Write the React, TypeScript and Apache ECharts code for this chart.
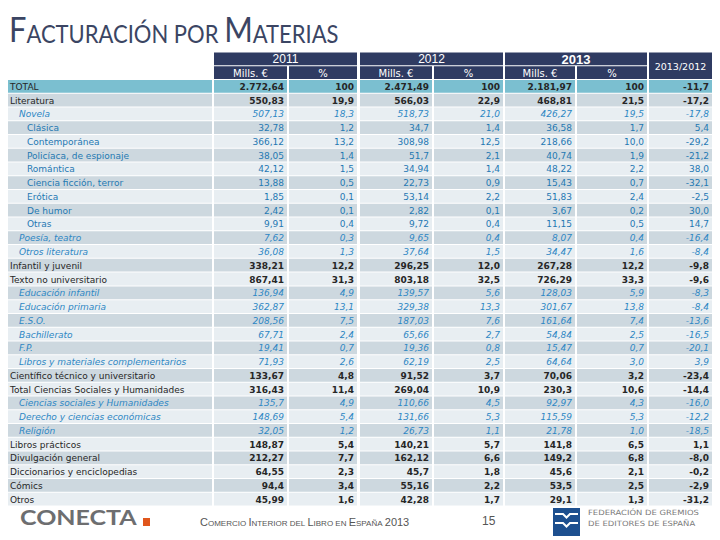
import React, { useEffect, useRef } from "react";
import * as echarts from "echarts";

// ---------- DATA ----------
const categories = [
  "TOTAL", "Literatura", "Novela", "Clásica", "Contemporánea", "Policíaca, de espionaje",
  "Romántica", "Ciencia ficción, terror", "Erótica", "De humor", "Otras", "Poesía, teatro",
  "Otros literatura", "Infantil y juvenil", "Texto no universitario", "Educación infantil",
  "Educación primaria", "E.S.O.", "Bachillerato", "F.P.", "Libros y materiales complementarios",
  "Científico técnico y universitario", "Total Ciencias Sociales y Humanidades",
  "Ciencias sociales y Humanidades", "Derecho y ciencias económicas", "Religión",
  "Libros prácticos", "Divulgación general", "Diccionarios y enciclopedias", "Cómics", "Otros",
];
// -1 total, 0 main category, 1 italic subcategory, 2 sub-subcategory
const levels = [-1, 0, 1, 2, 2, 2, 2, 2, 2, 2, 2, 1, 1, 0, 0, 1, 1, 1, 1, 1, 1, 0, 0, 1, 1, 1, 0, 0, 0, 0, 0];
const mills2011 = [2772.64, 550.83, 507.13, 32.78, 366.12, 38.05, 42.12, 13.88, 1.85, 2.42, 9.91, 7.62, 36.08, 338.21, 867.41, 136.94, 362.87, 208.56, 67.71, 19.41, 71.93, 133.67, 316.43, 135.7, 148.69, 32.05, 148.87, 212.27, 64.55, 94.4, 45.99];
const pct2011 = [100, 19.9, 18.3, 1.2, 13.2, 1.4, 1.5, 0.5, 0.1, 0.1, 0.4, 0.3, 1.3, 12.2, 31.3, 4.9, 13.1, 7.5, 2.4, 0.7, 2.6, 4.8, 11.4, 4.9, 5.4, 1.2, 5.4, 7.7, 2.3, 3.4, 1.6];
const mills2012 = [2471.49, 566.03, 518.73, 34.7, 308.98, 51.7, 34.94, 22.73, 53.14, 2.82, 9.72, 9.65, 37.64, 296.25, 803.18, 139.57, 329.38, 187.03, 65.66, 19.36, 62.19, 91.52, 269.04, 110.66, 131.66, 26.73, 140.21, 162.12, 45.7, 55.16, 42.28];
const pct2012 = [100, 22.9, 21.0, 1.4, 12.5, 2.1, 1.4, 0.9, 2.2, 0.1, 0.4, 0.4, 1.5, 12.0, 32.5, 5.6, 13.3, 7.6, 2.7, 0.8, 2.5, 3.7, 10.9, 4.5, 5.3, 1.1, 5.7, 6.6, 1.8, 2.2, 1.7];
const mills2013 = [2181.97, 468.81, 426.27, 36.58, 218.66, 40.74, 48.22, 15.43, 51.83, 3.67, 11.15, 8.07, 34.47, 267.28, 726.29, 128.03, 301.67, 161.64, 54.84, 15.47, 64.64, 70.06, 230.3, 92.97, 115.59, 21.78, 141.8, 149.2, 45.6, 53.5, 29.1];
const pct2013 = [100, 21.5, 19.5, 1.7, 10.0, 1.9, 2.2, 0.7, 2.4, 0.2, 0.5, 0.4, 1.6, 12.2, 33.3, 5.9, 13.8, 7.4, 2.5, 0.7, 3.0, 3.2, 10.6, 4.3, 5.3, 1.0, 6.5, 6.8, 2.1, 2.5, 1.3];
const var2013vs2012 = [-11.7, -17.2, -17.8, 5.4, -29.2, -21.2, 38.0, -32.1, -2.5, 30.0, 14.7, -16.4, -8.4, -9.8, -9.6, -8.3, -8.4, -13.6, -16.5, -20.1, 3.9, -23.4, -14.4, -16.0, -12.2, -18.5, 1.1, -8.0, -0.2, -2.9, -31.2];
const yearLabels = ["2011", "2012", "2013"];
const subHeaders = ["Mills. €", "%"];
const varHeader = "2013/2012";

// ---------- LAYOUT / STYLE ----------
const COLS: [number, number][] = [
  [0, 204], [206, 279], [281, 349], [352, 424], [426, 495], [497, 567], [569, 639], [641, 704],
];
const NAVY = "#2f3b62";
const TEAL = "#7bbfd0";
const DARK_ROW = "#cdd8df";
const LIGHT_ROW = "#e8eef2";
const TXT = "#262626";
const BLUE1 = "#2d87c4";
const BLUE2 = "#1f78b2";
const FONT = "DejaVu Sans";

function fmtMills(v: number) {
  let s = v.toFixed(2);
  if (s.includes(".")) s = s.replace(/0+$/, "").replace(/\.$/, "");
  const [i, d] = s.split(".");
  const ii = i.replace(/\B(?=(\d{3})+(?!\d))/g, ".");
  return d ? ii + "," + d : ii;
}
function fmtPct(v: number) {
  return v === 100 ? "100" : v.toFixed(1).replace(".", ",");
}
function fmtVar(v: number) {
  return v.toFixed(1).replace(".", ",");
}

type Cell = { c0: number; c1: number; r0: number; r1: number; text: string; kind: string; level?: number };

function buildCells(): Cell[] {
  const cells: Cell[] = [];
  yearLabels.forEach((y, k) => {
    cells.push({ c0: 1 + 2 * k, c1: 2 + 2 * k, r0: 0, r1: 0, text: y, kind: k === 2 ? "yearBold" : "year" });
    subHeaders.forEach((s, j) => {
      cells.push({ c0: 1 + 2 * k + j, c1: 1 + 2 * k + j, r0: 1, r1: 1, text: s, kind: "sub" });
    });
  });
  cells.push({ c0: 7, c1: 7, r0: 0, r1: 1, text: varHeader, kind: "varHead" });
  categories.forEach((name, i) => {
    const r = i + 2;
    const lv = levels[i];
    const vals = [
      fmtMills(mills2011[i]), fmtPct(pct2011[i]),
      fmtMills(mills2012[i]), fmtPct(pct2012[i]),
      fmtMills(mills2013[i]), fmtPct(pct2013[i]),
      fmtVar(var2013vs2012[i]),
    ];
    cells.push({ c0: 0, c1: 0, r0: r, r1: r, text: name, kind: "label", level: lv });
    vals.forEach((t, j) => cells.push({ c0: j + 1, c1: j + 1, r0: r, r1: r, text: t, kind: "num", level: lv }));
  });
  return cells;
}

export default function App() {
  const ref = useRef<HTMLDivElement>(null);
  useEffect(() => {
    const chart = echarts.init(ref.current!, null, { renderer: "svg" });
    const cells = buildCells();
    const rowNames = ["h0", "h1", ...categories];

    const renderItem = (params: any, api: any) => {
      const info = cells[params.dataIndex];
      const bandH = api.size([0, 1])[1];
      const xL = api.coord([COLS[info.c0][0], info.r0])[0];
      const xR = api.coord([COLS[info.c1][1], info.r0])[0];
      const yTop = api.coord([0, info.r0])[1] - bandH / 2;
      const yBot = api.coord([0, info.r1])[1] + bandH / 2;
      const h = yBot - yTop - 1;
      const yMid = yTop + h / 2 + 0.5;
      let fill = LIGHT_ROW;
      const textStyle: any = { fontFamily: FONT, fontSize: 9, fill: TXT, verticalAlign: "middle" };
      let tx = xR - 3;
      if (info.kind === "year" || info.kind === "yearBold" || info.kind === "sub" || info.kind === "varHead") {
        fill = NAVY;
        textStyle.fill = "#ffffff";
        textStyle.align = "center";
        tx = (xL + xR) / 2;
        if (info.kind === "year") { textStyle.fontSize = 12; textStyle.fontFamily = "Liberation Sans"; }
        if (info.kind === "yearBold") { textStyle.fontSize = 13; textStyle.fontWeight = "bold"; textStyle.fontFamily = "Liberation Sans"; }
        if (info.kind === "sub") textStyle.fontSize = 10;
        if (info.kind === "varHead") textStyle.fontSize = 9.5;
      } else {
        const dataRow = info.r0 - 2;
        const lv = info.level as number;
        fill = dataRow === 0 ? TEAL : dataRow % 2 === 1 ? DARK_ROW : LIGHT_ROW;
        if (lv === 1) { textStyle.fill = BLUE1; textStyle.fontStyle = "italic"; }
        if (lv === 2) { textStyle.fill = BLUE2; }
        if (info.kind === "label") {
          textStyle.align = "left";
          tx = xL + (lv === 1 ? 11 : lv === 2 ? 19 : 2);
        } else {
          textStyle.align = "right";
          if (lv <= 0) textStyle.fontWeight = "bold";
        }
      }
      textStyle.text = info.text;
      textStyle.x = tx;
      textStyle.y = yMid;
      return {
        type: "group",
        children: [
          { type: "rect", shape: { x: xL, y: yTop, width: xR - xL, height: h }, style: { fill } },
          { type: "text", style: textStyle },
        ],
      };
    };

    const option: any = {
      animation: false,
      grid: { left: 8, top: 52.5, width: 704, height: 454 },
      xAxis: { type: "value", min: 0, max: 704, show: false },
      yAxis: { type: "category", data: rowNames, inverse: true, show: false },
      series: [
        {
          type: "custom",
          renderItem,
          encode: { x: [0, 2], y: [1, 3] },
          data: cells.map((c) => [COLS[c.c0][0], c.r0, COLS[c.c1][1], c.r1]),
          silent: true,
        },
      ],
      graphic: [
        {
          type: "text",
          x: 9,
          y: 10,
          scaleX: 0.88,
          style: {
            text: "{b|F}{s|ACTURACIÓN POR }{b|M}{s|ATERIAS}",
            verticalAlign: "top",
            rich: {
              b: { fontSize: 35, fontFamily: "Lato", fill: "#3b4563", verticalAlign: "bottom", lineHeight: 36 },
              s: { fontSize: 25, fontFamily: "Lato", fill: "#3b4563", verticalAlign: "bottom", lineHeight: 36 },
            },
          },
        },
        {
          type: "text",
          x: 20,
          y: 506,
          scaleX: 1.19,
          style: { text: "CONECTA", verticalAlign: "top", fontSize: 21, fontFamily: "Lato", fontWeight: "bold", fill: "#6d6e70" },
        },
        { type: "rect", shape: { x: 143, y: 518, width: 7, height: 8 }, style: { fill: "#e0561c" } },
        {
          type: "text",
          left: 200,
          top: 516,
          style: {
            text: "{B|C}{s|OMERCIO }{B|I}{s|NTERIOR DEL }{B|L}{s|IBRO EN }{B|E}{s|SPAÑA }{B|2013}",
            rich: {
              B: { fontSize: 11, fontFamily: "Liberation Sans", fill: "#555555", verticalAlign: "bottom", lineHeight: 12 },
              s: { fontSize: 8, fontFamily: "Liberation Sans", fill: "#555555", verticalAlign: "bottom", lineHeight: 12 },
            },
          },
        },
        {
          type: "text",
          left: 482,
          top: 515,
          style: { text: "15", fontSize: 12, fontFamily: "Liberation Sans", fill: "#555555" },
        },
        { type: "rect", shape: { x: 553, y: 508, width: 27, height: 28 }, style: { fill: "#1d4f8f" } },
        {
          type: "polyline",
          shape: { points: [[555, 514], [563, 514], [566.5, 517.5], [570, 514], [578, 514]] },
          style: { stroke: "#ffffff", lineWidth: 2, fill: "none" },
        },
        {
          type: "polyline",
          shape: { points: [[555, 523], [563, 523], [566.5, 526.5], [570, 523], [578, 523]] },
          style: { stroke: "#ffffff", lineWidth: 2, fill: "none" },
        },
        {
          type: "text",
          x: 588,
          y: 509,
          scaleX: 1.17,
          style: { text: "FEDERACIÓN DE GREMIOS", verticalAlign: "top", fontSize: 7.2, fontFamily: FONT, fill: "#7a7a7a" },
        },
        {
          type: "text",
          x: 588,
          y: 520,
          scaleX: 1.17,
          style: { text: "DE EDITORES DE ESPAÑA", verticalAlign: "top", fontSize: 7.2, fontFamily: FONT, fill: "#7a7a7a" },
        },
      ],
    };
    chart.setOption(option);
    return () => chart.dispose();
  }, []);
  return <div ref={ref} style={{ width: 720, height: 540, position: "absolute", left: 0, top: 0 }} />;
}
